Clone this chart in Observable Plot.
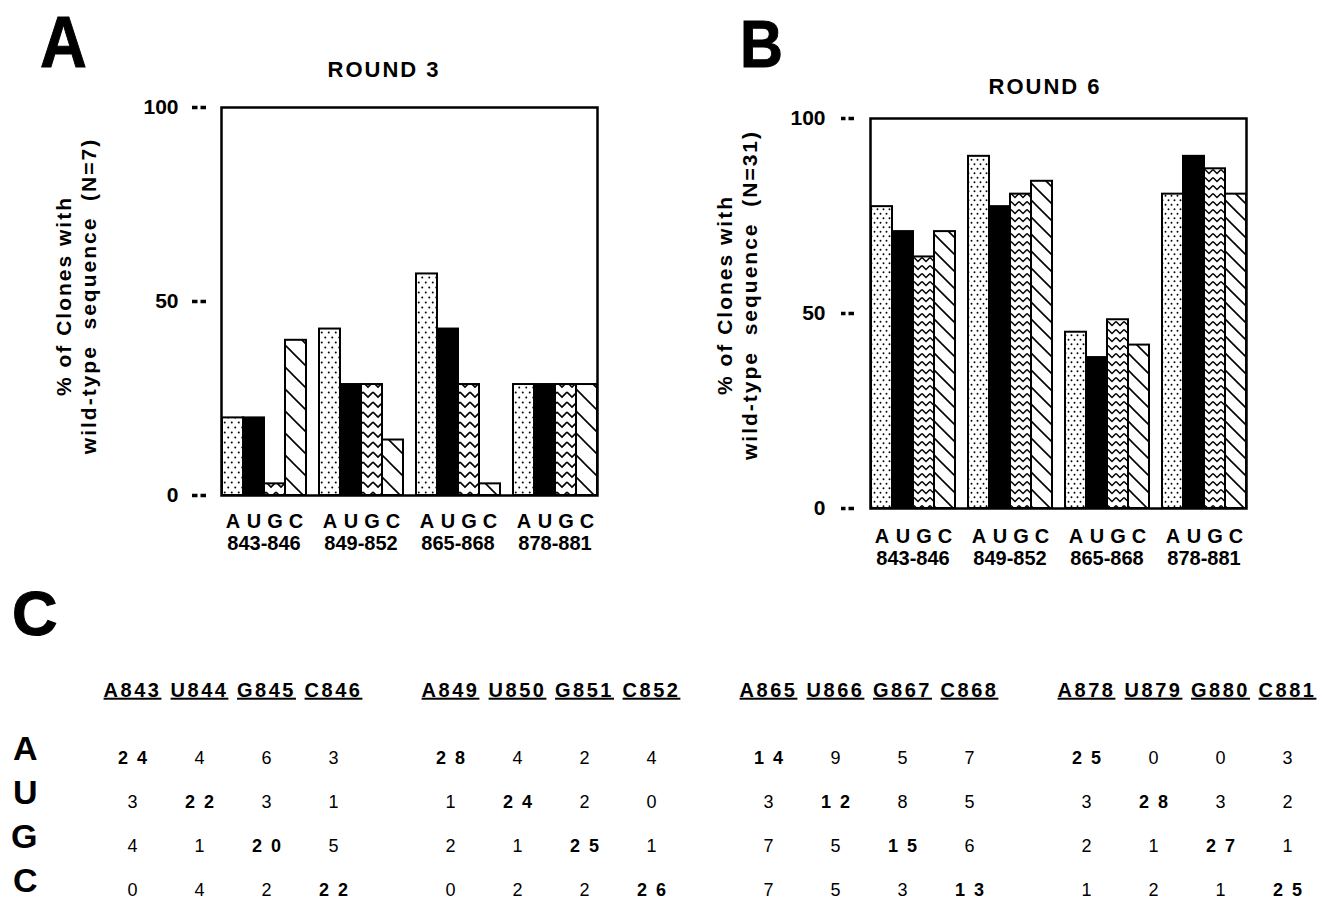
<!DOCTYPE html>
<html><head><meta charset="utf-8">
<script src="https://cdn.jsdelivr.net/npm/d3@7"></script>
<script src="https://cdn.jsdelivr.net/npm/@observablehq/plot@0.6"></script>
<style>
html,body{margin:0;padding:0;background:#fff;}
#page{position:relative;width:1322px;height:901px;overflow:hidden;background:#fff;font-family:"Liberation Sans",Arial,Helvetica,sans-serif;color:#000;}
.abs{position:absolute;}
.panel{position:absolute;font-weight:bold;line-height:1;-webkit-text-stroke:1px #000;transform-origin:0 0;}
.title{position:absolute;font-weight:bold;font-size:22px;line-height:22px;letter-spacing:2px;white-space:pre;transform:translateX(-50%);}
.ylab{position:absolute;font-weight:bold;font-size:21px;line-height:25px;letter-spacing:2px;white-space:pre;text-align:center;transform:translate(-50%,-50%) rotate(-90deg);}
</style></head>
<body><div id="page">
<svg width="0" height="0" style="position:absolute">
<defs>
<pattern id="dotsA" width="7" height="10" patternUnits="userSpaceOnUse"><rect width="7" height="10" fill="#fff"/><circle cx="1.75" cy="2.5" r="1"/><circle cx="5.25" cy="7.5" r="1"/></pattern>
<pattern id="zigA" width="10" height="10" patternUnits="userSpaceOnUse"><rect width="10" height="10" fill="#fff"/><path d="M0,2L5,7L10,2" fill="none" stroke="#000" stroke-width="1.6"/></pattern>
<pattern id="hatchA" width="22" height="22" patternUnits="userSpaceOnUse"><rect width="22" height="22" fill="#fff"/><path d="M0,0L22,22M-3,19L3,25M19,-3L25,3" stroke="#000" stroke-width="1.6"/></pattern>
<pattern id="dotsB" width="6" height="9" patternUnits="userSpaceOnUse"><rect width="6" height="9" fill="#fff"/><circle cx="1.5" cy="2.25" r="0.95"/><circle cx="4.5" cy="6.75" r="0.95"/></pattern>
<pattern id="zigB" width="8" height="8" patternUnits="userSpaceOnUse"><rect width="8" height="8" fill="#fff"/><path d="M0,1.5L4,5.5L8,1.5" fill="none" stroke="#000" stroke-width="1.5"/></pattern>
<pattern id="hatchB" width="17" height="17" patternUnits="userSpaceOnUse"><rect width="17" height="17" fill="#fff"/><path d="M0,0L17,17M-3,14L3,20M14,-3L20,3" stroke="#000" stroke-width="1.6"/></pattern>
</defs></svg>
<div id="chartA" class="abs" style="left:0;top:0;width:660px;height:600px"></div>
<div id="chartB" class="abs" style="left:660px;top:0;width:662px;height:600px"></div>
<div id="tableC" class="abs" style="left:0;top:640px;width:1322px;height:261px"></div>
<div class="panel" style="left:40px;top:6px;font-size:72px;transform:scaleX(0.9)">A</div>
<div class="panel" style="left:740px;top:11px;font-size:66px;transform:scaleX(0.9)">B</div>
<div class="panel" style="left:12px;top:582px;font-size:63px;">C</div>
<div class="title" style="left:384px;top:59px">ROUND 3</div>
<div class="title" style="left:1045px;top:76px">ROUND 6</div>
<div class="ylab" style="left:76px;top:296px">% of Clones with
wild-type  sequence  (N=7)</div>
<div class="ylab" style="left:737px;top:295px">% of Clones with
wild-type  sequence  (N=31)</div>
</div>
<script>
const groups = ["843-846", "849-852", "865-868", "878-881"];
const bases = ["A", "U", "G", "C"];
const yTicks = [0, 50, 100];
// Round 3 (N=7): percentage per group, order A U G C
const round3 = [
  [20, 20, 3, 40],
  [42.9, 28.6, 28.6, 14.3],
  [57.1, 42.9, 28.6, 3],
  [28.6, 28.6, 28.6, 28.6]
];
// Round 6 (N=31)
const round6 = [
  [77.4, 71.0, 64.5, 71.0],
  [90.3, 77.4, 80.6, 83.9],
  [45.2, 38.7, 48.4, 41.9],
  [80.6, 90.3, 87.1, 80.6]
];
const headerLabels = ["A843","U844","G845","C846","A849","U850","G851","C852",
                      "A865","U866","G867","C868","A878","U879","G880","C881"];
const countsA = [24, 4, 6, 3, 28, 4, 2, 4, 14, 9, 5, 7, 25, 0, 0, 3];
const countsU = [3, 22, 3, 1, 1, 24, 2, 0, 3, 12, 8, 5, 3, 28, 3, 2];
const countsG = [4, 1, 20, 5, 2, 1, 25, 1, 7, 5, 15, 6, 2, 1, 27, 1];
const countsC = [0, 4, 2, 22, 0, 2, 2, 26, 7, 5, 3, 13, 1, 2, 1, 25];

const FONT = '"Liberation Sans", Arial, Helvetica, sans-serif';

function barChart(values, o) {
  const data = groups.flatMap((g, i) => bases.map((b, j) => ({group: g, base: b, value: values[i][j]})));
  return Plot.plot({
    width: o.width, height: 600,
    marginLeft: o.ml, marginRight: o.mr, marginTop: o.mt, marginBottom: o.mb,
    style: {fontFamily: FONT, fontWeight: "bold", background: "transparent", overflow: "visible", color: "#000"},
    x: {domain: bases, padding: 0},
    fx: {domain: groups, paddingInner: 0.12, paddingOuter: 0.05},
    y: {domain: [0, 100]},
    color: {domain: bases, range: o.fills},
    marks: [
      Plot.barY(data, {fx: "group", x: "base", y: "value", fill: "base", stroke: "#000", strokeWidth: 2}),
      Plot.frame({facet: "super", stroke: "#000", strokeWidth: 2.5}),
      Plot.axisX({tickSize: 0, tickPadding: o.xPad, fontSize: 20, fontWeight: "bold", label: null}),
      Plot.axisFx({anchor: "bottom", tickSize: 0, tickPadding: o.fxPad, fontSize: 20, fontWeight: "bold", label: null}),
      Plot.axisY({ticks: yTicks, tickSize: 0, tickPadding: o.yPad, fontSize: 21, fontWeight: "bold", label: null}),
      Plot.axisY({ticks: yTicks, tickSize: o.tickLen, dx: -o.tickGap, tickFormat: () => "", stroke: "#000", strokeWidth: 3.5, strokeDasharray: "5.5,3", label: null})
    ]
  });
}

document.getElementById("chartA").append(barChart(round3, {
  width: 660, ml: 215, mr: 57, mt: 107, mb: 105, xPad: 18, fxPad: 40, yPad: 43, tickGap: 15, tickLen: 14,
  fills: ["url(#dotsA)", "#000", "url(#zigA)", "url(#hatchA)"]
}));
document.getElementById("chartB").append(barChart(round6, {
  width: 662, ml: 204, mr: 69, mt: 118, mb: 92, xPad: 20, fxPad: 42, yPad: 45, tickGap: 16, tickLen: 13,
  fills: ["url(#dotsB)", "#000", "url(#zigB)", "url(#hatchB)"]
}));

// Table C
const rowCounts = {A: countsA, U: countsU, G: countsG, C: countsC};
const cells = bases.flatMap(r => rowCounts[r].map((v, j) => ({row: r, group: groups[Math.floor(j / 4)], col: bases[j % 4], v})));
const headers = headerLabels.map((label, j) => ({label, group: groups[Math.floor(j / 4)], col: bases[j % 4]}));

const table = Plot.plot({
  width: 1322, height: 261,
  marginLeft: 97, marginRight: 1, marginTop: 117, marginBottom: 10,
  style: {fontFamily: FONT, background: "transparent", overflow: "visible", color: "#000"},
  x: {type: "point", domain: bases, padding: 0.5, axis: null},
  fx: {domain: groups, paddingInner: 0.151, paddingOuter: 0, axis: null},
  y: {type: "point", domain: bases, padding: 0},
  marks: [
    Plot.axisY({tickSize: 0, tickPadding: 60, fontSize: 34, fontWeight: "bold", dy: -9, label: null}),
    Plot.text(cells.filter(d => d.row !== d.col), {fx: "group", x: "col", y: "row", text: d => String(d.v), fontSize: 18}),
    Plot.text(cells.filter(d => d.row === d.col), {fx: "group", x: "col", y: "row", text: d => String(d.v).split("").join("\u2002"), fontSize: 18, fontWeight: "bold"}),
    Plot.text(headers, {fx: "group", x: "col", frameAnchor: "top", dy: -75, text: "label", fontSize: 20, fontWeight: "bold"})
  ]
});
const headerSet = new Set(headerLabels);
table.querySelectorAll("text").forEach(t => {
  if (headerSet.has(t.textContent)) {
    t.style.textDecoration = "underline";
    t.style.textDecorationThickness = "2px";
    t.style.letterSpacing = "2.5px";
  }
});
document.getElementById("tableC").append(table);
</script>
</body></html>
